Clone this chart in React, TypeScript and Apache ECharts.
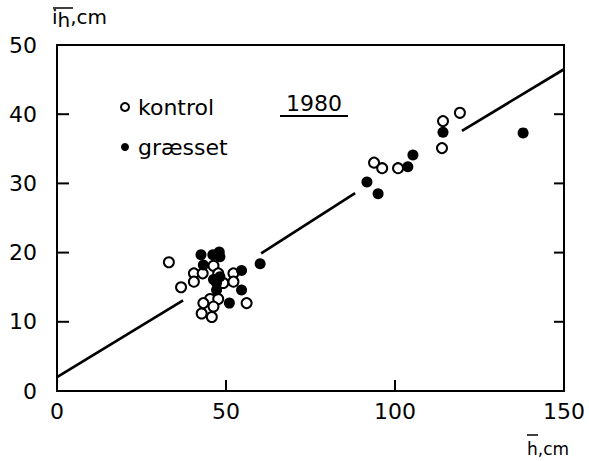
import React, { useEffect, useRef } from "react";
import * as echarts from "echarts";

const kontrol: number[][] = [
  [33.1, 18.6], [36.7, 15.0], [40.5, 17.0], [40.5, 15.8], [43.1, 17.0],
  [46.3, 18.1], [47.7, 17.0], [49.2, 15.6], [52.2, 17.0], [52.2, 15.8],
  [45.3, 13.3], [47.7, 13.3], [43.3, 12.7], [46.3, 12.2], [42.8, 11.2],
  [45.8, 10.7], [56.1, 12.7],
  [93.8, 33.0], [96.2, 32.2], [100.9, 32.2], [113.9, 35.1], [114.2, 39.0], [119.2, 40.2],
];

const graesset: number[][] = [
  [42.6, 19.7], [46.1, 19.7], [48.0, 20.1], [48.2, 19.4], [43.3, 18.2],
  [54.6, 17.4], [46.3, 16.1], [48.2, 16.5], [47.2, 14.6], [54.6, 14.6],
  [47.2, 15.6], [51.0, 12.7], [60.1, 18.4],
  [91.7, 30.2], [95.0, 28.5], [103.8, 32.4], [105.3, 34.1], [114.2, 37.4], [137.9, 37.3],
];

const fitSeg1: number[][] = [[0, 2.0], [37.3, 13.1]];
const fitSeg2: number[][] = [[60.4, 19.9], [88.2, 28.6]];
const fitSeg3: number[][] = [[119.8, 37.6], [150, 46.5]];

const xTicks = [0, 50, 100, 150];
const yTicks = [0, 10, 20, 30, 40, 50];

const FONT = "DejaVu Sans";

export default function App() {
  const ref = useRef<HTMLDivElement>(null);
  useEffect(() => {
    if (!ref.current) return;
    const chart = echarts.init(ref.current, undefined, { renderer: "svg" });
    const xMin = xTicks[0];
    const xMax = xTicks[xTicks.length - 1];
    const yMin = yTicks[0];
    const yMax = yTicks[yTicks.length - 1];
    const yMid = (yMin + yMax) / 2;
    const lineSeries = (d: number[][]) => ({
      type: "line",
      data: d,
      symbol: "none",
      silent: true,
      lineStyle: { color: "#000", width: 2.7 },
    });
    const axisLbl = () => ({ color: "#000", fontSize: 22, fontFamily: FONT });
    const axLine = () => ({ show: true, onZero: false, lineStyle: { color: "#000", width: 2 } });
    const yTickData: number[][] = yTicks.slice(1, -1).map((v) => [xMin, v]);
    const xTickData: number[][] = xTicks.slice(1, -1).map((v) => [v, yMid]);
    const st = { stroke: "#000", lineWidth: 2 };
    chart.setOption({
      animation: false,
      backgroundColor: "#fff",
      grid: { left: 57, right: 25, top: 45, bottom: 70 },
      legend: {
        left: 115,
        top: 91,
        orient: "vertical",
        itemWidth: 8,
        itemHeight: 8,
        itemGap: 18,
        icon: "circle",
        data: ["kontrol", "græsset"],
        textStyle: { color: "#000", fontSize: 22, fontFamily: FONT, padding: [0, 0, 0, 4] },
      },
      xAxis: [
        {
          type: "value",
          min: xMin,
          max: xMax,
          interval: 50,
          position: "bottom",
          axisLine: axLine(),
          axisTick: { show: false },
          axisLabel: { ...axisLbl(), margin: 9 },
          splitLine: { show: false },
        },
        {
          type: "value",
          min: xMin,
          max: xMax,
          interval: 50,
          position: "top",
          axisLine: axLine(),
          axisTick: { show: false },
          axisLabel: { show: false },
          splitLine: { show: false },
        },
      ],
      yAxis: [
        {
          type: "value",
          min: yMin,
          max: yMax,
          interval: 10,
          position: "left",
          axisLine: axLine(),
          axisTick: { show: false },
          axisLabel: { ...axisLbl(), margin: 20 },
          splitLine: { show: false },
        },
        {
          type: "value",
          min: yMin,
          max: yMax,
          interval: 10,
          position: "right",
          axisLine: axLine(),
          axisTick: { show: false },
          axisLabel: { show: false },
          splitLine: { show: false },
        },
      ],
      series: [
        {
          type: "custom",
          silent: true,
          clip: false,
          data: yTickData,
          renderItem: (_params: any, api: any) => {
            const v = api.value(1);
            const p = api.coord([xMin, v]);
            const q = api.coord([xMax, v]);
            return {
              type: "group",
              children: [
                { type: "line", shape: { x1: p[0], y1: p[1], x2: p[0] + 12, y2: p[1] }, style: st },
                { type: "line", shape: { x1: q[0], y1: q[1], x2: q[0] - 10, y2: q[1] }, style: st },
              ],
            };
          },
        },
        {
          type: "custom",
          silent: true,
          clip: false,
          data: xTickData,
          renderItem: (_params: any, api: any) => {
            const v = api.value(0);
            const b = api.coord([v, yMin]);
            return {
              type: "rect",
              shape: { x: b[0] - 1, y: b[1] - 11, width: 2, height: 11 },
              style: { fill: "#000" },
            };
          },
        },
        lineSeries(fitSeg1),
        lineSeries(fitSeg2),
        lineSeries(fitSeg3),
        {
          name: "kontrol",
          type: "scatter",
          data: kontrol,
          symbol: "circle",
          symbolSize: 10,
          itemStyle: { color: "#fff", borderColor: "#000", borderWidth: 2, opacity: 1 },
          z: 3,
        },
        {
          name: "græsset",
          type: "scatter",
          data: graesset,
          symbol: "circle",
          symbolSize: 11,
          itemStyle: { color: "#000", borderColor: "#000", borderWidth: 0, opacity: 1 },
          z: 4,
        },
      ],
      graphic: [
        {
          type: "text",
          left: 52,
          top: 7,
          style: {
            text: "{i|i}{h|h}{c|,cm}",
            rich: {
              i: { fontSize: 20, fontFamily: FONT, fill: "#000" },
              h: { fontSize: 20, fontFamily: FONT, fill: "#000", padding: [6, 0, 0, 0] },
              c: { fontSize: 20, fontFamily: FONT, fill: "#000" },
            },
          },
        },
        { type: "line", shape: { x1: 53, y1: 8, x2: 73, y2: 8 }, style: { stroke: "#000", lineWidth: 1.5 } },
        {
          type: "text",
          left: 527,
          top: 440,
          style: { text: "h,cm", fontSize: 17, fontFamily: FONT, fill: "#000" },
        },
        { type: "line", shape: { x1: 527, y1: 435, x2: 538, y2: 435 }, style: { stroke: "#000", lineWidth: 1.5 } },
        {
          type: "text",
          left: 286,
          top: 92,
          style: { text: "1980", fontSize: 22, fontFamily: FONT, fill: "#000" },
        },
        { type: "line", shape: { x1: 280, y1: 116, x2: 348, y2: 116 }, style: { stroke: "#000", lineWidth: 2 } },
      ],
    });
    return () => chart.dispose();
  }, []);
  return <div ref={ref} style={{ width: 589, height: 461, position: "absolute", left: 0, top: 0 }} />;
}
